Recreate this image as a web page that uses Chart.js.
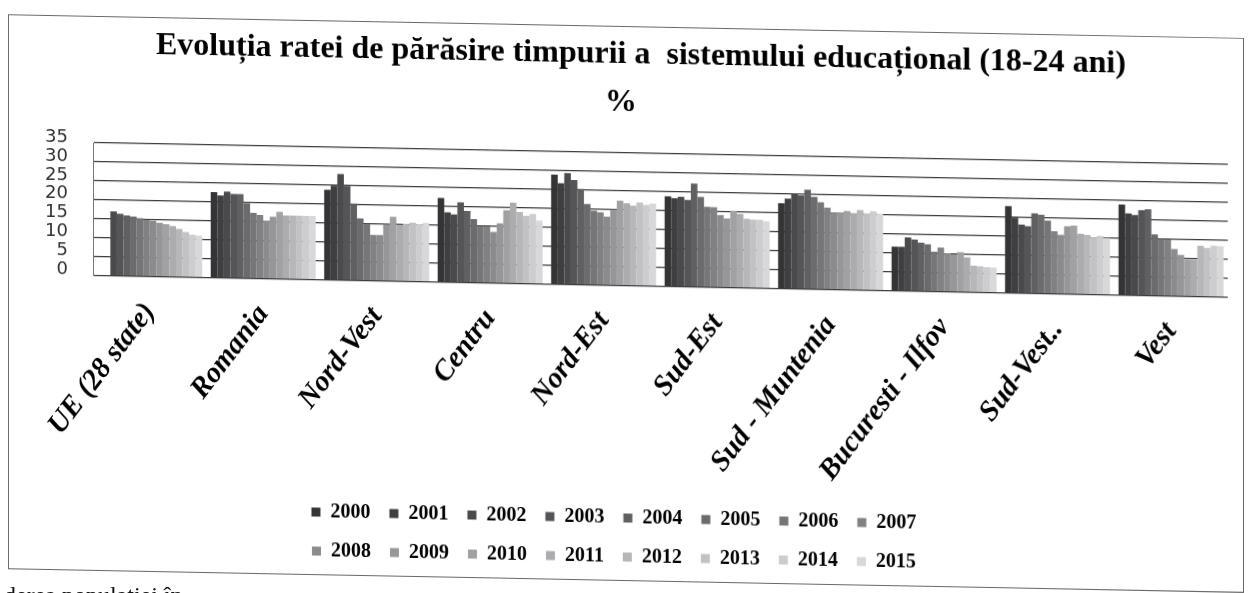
<!DOCTYPE html>
<html>
<head>
<meta charset="utf-8">
<script src="https://cdn.jsdelivr.net/npm/chart.js@4.4.1/dist/chart.umd.min.js"></script>
<style>
  html, body { margin: 0; padding: 0; background: #fff; overflow: hidden; }
  #page { position: relative; width: 1250px; height: 593px; overflow: hidden; background: #fff; }
  #sheet { position: absolute; left: 0; top: 0; width: 1250px; height: 593px;
           transform: skewY(1.1deg); transform-origin: 625px 296px; }
  #frame { position: absolute; left: 8px; top: 26px; width: 1236px; height: 555px;
           border: 1px solid #6a6a6a; box-sizing: border-box; }
  #chart { position: absolute; left: 0; top: 0; width: 1250px; height: 593px; }
  #tail { position: absolute; left: 4px; top: 582px; font: 24px "Liberation Serif", serif;
          color: #111; white-space: nowrap; }
</style>
</head>
<body>
<div id="page">
  <div id="sheet">
    <div id="frame"></div>
    <canvas id="chart" width="1250" height="593"></canvas>
  </div>
  <div id="tail">derea populației în</div>
</div>
<script>
// Years shown as series (one bar per year inside each region group)
const years = ['2000', '2001', '2002', '2003', '2004', '2005', '2006', '2007',
               '2008', '2009', '2010', '2011', '2012', '2013', '2014', '2015'];

// Regions on the category axis
const regions = ['UE (28 state)', 'Romania', 'Nord-Vest', 'Centru', 'Nord-Est', 'Sud-Est',
                 'Sud - Muntenia', 'Bucuresti - Ilfov', 'Sud-Vest..', 'Vest'];

// Early school leaving rate (%), 18-24 year olds, 2000..2015 for each region
const ue             = [null, null, 17.0, 16.4, 16.0, 15.7, 15.3, 14.9, 14.7, 14.2, 13.9, 13.4, 12.7, 11.9, 11.2, 11.0];
const romania        = [22.6, 21.7, 22.8, 22.2, 22.2, 19.8, 17.3, 16.8, 15.3, 16.4, 17.7, 16.8, 16.8, 16.8, 16.8, 16.8];
const nordVest       = [23.8, 24.9, 28.0, 24.9, 20.3, 16.4, 15.0, 12.1, 12.1, 15.0, 17.0, 14.9, 15.2, 15.5, 15.2, 15.5];
const centru         = [22.2, 18.4, 17.9, 21.1, 18.9, 16.8, 15.0, 14.9, 13.5, 15.8, 19.3, 21.3, 18.9, 17.9, 18.4, 16.7];
const nordEst        = [28.9, 26.7, 29.4, 27.6, 25.3, 21.3, 19.6, 19.2, 18.1, 20.0, 22.4, 21.7, 21.1, 22.0, 21.4, 21.8];
const sudEst         = [23.8, 23.3, 23.7, 22.9, 27.3, 23.8, 21.2, 21.1, 19.1, 18.2, 20.3, 19.5, 18.2, 18.0, 18.0, 17.7];
const sudMuntenia    = [22.5, 23.8, 25.2, 24.7, 26.2, 24.4, 23.0, 21.6, 20.4, 20.4, 20.8, 20.3, 21.1, 20.3, 20.9, 20.3];
const bucurestiIlfov = [11.6, 11.6, 14.1, 13.6, 12.8, 12.4, 10.5, 11.6, 10.2,  9.9, 10.5,  9.2,  7.0,  6.9,  6.7,  6.6];
const sudVest        = [22.9, 19.9, 18.1, 17.7, 21.1, 20.8, 19.3, 16.5, 15.6, 17.9, 18.1, 16.0, 15.7, 15.2, 15.5, 15.0];
const vest           = [23.9, 21.6, 21.2, 22.5, 22.8, 16.2, 15.0, 14.9, 12.4, 10.9,  9.8,  9.8, 13.4, 12.9, 13.5, 13.4];

// Value axis ticks
const yMin = 0, yMax = 35, yStep = 5;

const titleLines = ['     Evoluția ratei de părăsire timpurii a  sistemului educațional (18-24 ani)', '%'];

const regionRows = [ue, romania, nordVest, centru, nordEst, sudEst, sudMuntenia, bucurestiIlfov, sudVest, vest];

// grey ramp from dark (first year) to light (last year)
function shade(i, n) {
  const g = Math.round(52 + (216 - 52) * i / (n - 1));
  return `rgb(${g},${g},${Math.min(255, g + 3)})`;
}

const datasets = years.map((year, i) => ({
  label: year,
  data: regionRows.map(row => row[i]),
  backgroundColor: shade(i, years.length),
  borderWidth: 0,
  barPercentage: 1.0,
  categoryPercentage: 0.925
}));

// Legend laid out in rows of eight entries, centred under the plot;
// the title block sits a little to the right of the plot centre.
const legendRowWidth = 660;
const titleShift = 7;
const blockLayout = {
  id: 'blockLayout',
  afterInit(chart) {
    const lg = chart.legend;
    const baseFit = lg.fit;
    lg.fit = function () {
      const full = this.maxWidth;
      this.maxWidth = legendRowWidth;
      baseFit.call(this);
      this.maxWidth = full;
      this.width = full;
    };
  },
  afterLayout(chart) {
    const lg = chart.legend;
    const mid = (lg.left + lg.right) / 2;
    lg.left = mid - legendRowWidth / 2;
    lg.right = mid + legendRowWidth / 2;
    lg.width = legendRowWidth;
    const tb = chart.titleBlock;
    tb.left += titleShift;
    tb.right += titleShift;
  }
};

new Chart(document.getElementById('chart'), {
  type: 'bar',
  data: { labels: regions, datasets },
  plugins: [blockLayout],
  options: {
    responsive: false,
    animation: false,
    devicePixelRatio: 1,
    layout: { padding: { left: 0, right: 22, top: 0, bottom: 16 } },
    plugins: {
      title: {
        display: true,
        text: titleLines,
        color: '#000',
        font: { family: '"Liberation Serif", serif', size: 32, weight: 'bold', lineHeight: 1.5 },
        padding: { top: 31, bottom: 26 }
      },
      legend: {
        position: 'bottom',
        labels: {
          boxWidth: 9,
          boxHeight: 9,
          padding: 19,
          color: '#000',
          font: { family: '"Liberation Serif", serif', size: 20, weight: 'bold' }
        }
      },
      tooltip: { enabled: false }
    },
    scales: {
      x: {
        grid: { display: false, drawTicks: false },
        border: { display: false },
        ticks: {
          autoSkip: false,
          minRotation: 53,
          maxRotation: 53,
          padding: 20,
          color: '#000',
          font: { family: '"Liberation Serif", serif', size: 29, weight: 'bold', style: 'italic' }
        },
        afterFit(scale) { scale.height = 203.5; }
      },
      y: {
        min: yMin,
        max: yMax,
        ticks: {
          stepSize: yStep,
          autoSkip: false,
          padding: 25,
          labelOffset: -5,
          color: '#333',
          font: { family: '"DejaVu Sans", sans-serif', size: 18 }
        },
        grid: { color: '#3c3c3c', lineWidth: 1.2, drawTicks: false },
        border: { display: true, color: '#777', width: 1 },
        afterFit(scale) { scale.width = 93; }
      }
    }
  }
});
</script>
</body>
</html>
